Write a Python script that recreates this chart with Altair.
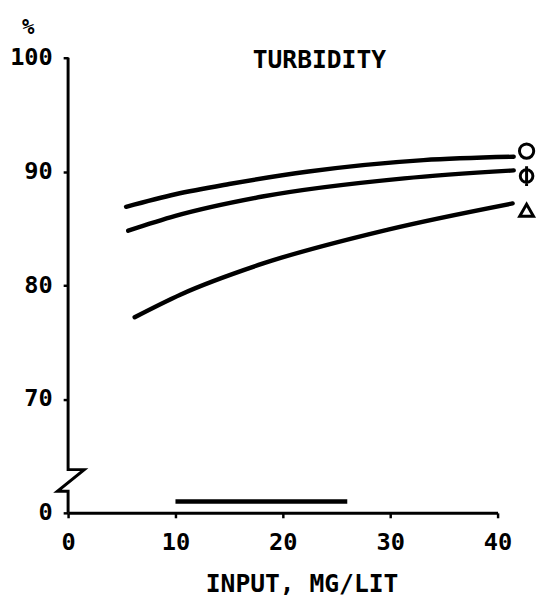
import altair as alt
import pandas as pd

# ---- data ----
series_names = ["circle", "phi", "triangle"]
x_circle = [5.4, 10, 15, 22.4, 33.1, 41.5]
y_circle = [86.9, 88.0, 88.9, 90.0, 91.0, 91.3]
x_phi = [5.6, 10, 18.1, 31.3, 41.5]
y_phi = [84.8, 86.1, 87.8, 89.4, 90.1]
x_tri = [6.2, 10.5, 18.1, 29.8, 41.4]
y_tri = [77.2, 79.2, 81.9, 84.9, 87.2]

marker_x = [42.7, 42.7, 42.7]
marker_y = [91.8, 89.6, 86.6]

# horizontal range bar near the bottom (x from 10 to 26, ~1 %)
bar_x = [10, 26]
bar_value = 1

y_ticks = [60, 70, 80, 90, 100]   # 60 is shown as "0" after the axis break
x_ticks = [0, 10, 20, 30, 40]
BREAK_BASE = 60                   # axis value drawn for 0 %

# broken y-axis outline (x, y) in data units
axis_x = [0, 0, 1.5, -1.0, 0, 0]
axis_y = [100, 63.8, 63.8, 61.9, 61.9, 60]

FONT = "DejaVu Sans Mono"

lines_df = pd.concat([
    pd.DataFrame({"series": "circle", "x": x_circle, "y": y_circle}),
    pd.DataFrame({"series": "phi", "x": x_phi, "y": y_phi}),
    pd.DataFrame({"series": "triangle", "x": x_tri, "y": y_tri}),
])
markers_df = pd.DataFrame({"series": series_names, "x": marker_x, "y": marker_y})
bar_df = pd.DataFrame({"x": [bar_x[0]], "x2": [bar_x[1]], "y": [BREAK_BASE + bar_value]})
axis_df = pd.DataFrame({"x": axis_x, "y": axis_y, "o": list(range(len(axis_x)))})
title_df = pd.DataFrame({"x": [23.4], "y": [99.8], "t": ["TURBIDITY"]})

xscale = alt.Scale(domain=[0, 40], nice=False)
yscale = alt.Scale(domain=[60, 100], nice=False, zero=False)

x_enc = alt.X(
    "x:Q", scale=xscale,
    axis=alt.Axis(
        values=x_ticks, title="INPUT, MG/LIT", grid=False,
        domainWidth=3, domainColor="black", tickColor="black", tickWidth=2.5, tickSize=5,
        labelFont=FONT, labelFontWeight="bold", labelFontSize=24, labelColor="black",
        labelPadding=13, labelFlush=False,
        titleFont=FONT, titleFontWeight="bold", titleFontSize=25, titleColor="black",
        titleX=237, titleY=80, titleBaseline="alphabetic", titleAlign="center",
    ),
)
y_enc = alt.Y(
    "y:Q", scale=yscale,
    axis=alt.Axis(
        values=y_ticks, title="%", grid=False, domain=False,
        labelExpr="datum.value == 60 ? '0' : datum.label",
        tickColor="black", tickWidth=2.5, tickSize=5,
        labelFont=FONT, labelFontWeight="bold", labelFontSize=24, labelColor="black",
        labelPadding=11, labelFlush=False,
        titleFont=FONT, titleFontWeight="bold", titleFontSize=21, titleColor="black",
        titleAngle=0, titleX=-41, titleY=-25, titleBaseline="alphabetic", titleAlign="center",
    ),
)

lines = alt.Chart(lines_df).mark_line(
    interpolate="monotone", color="black", strokeWidth=4.5, strokeCap="round"
).encode(x=x_enc, y=y_enc, detail="series:N")

phi_path = "M -0.9,0 A 0.9,0.9 0 1,1 0.9,0 A 0.9,0.9 0 1,1 -0.9,0 M 0,-1.4 L 0,1.4"
markers = alt.Chart(markers_df).mark_point(
    filled=False, color="black", strokeWidth=3, opacity=1
).encode(
    x="x:Q", y="y:Q",
    shape=alt.Shape("series:N", scale=alt.Scale(domain=series_names,
                                               range=["circle", phi_path, "triangle-up"]), legend=None),
    size=alt.Size("series:N", scale=alt.Scale(domain=series_names, range=[210, 196, 360]), legend=None),
)

bar = alt.Chart(bar_df).mark_rule(color="black", strokeWidth=4.5).encode(
    x="x:Q", x2="x2:Q", y="y:Q"
)

axis_line = alt.Chart(axis_df).mark_line(color="black", strokeWidth=3).encode(
    x="x:Q", y="y:Q", order="o:Q"
)

title = alt.Chart(title_df).mark_text(
    font=FONT, fontWeight="bold", fontSize=25, color="black", baseline="middle", align="center"
).encode(x="x:Q", y="y:Q", text="t:N")

chart = alt.layer(axis_line, lines, bar, markers, title).properties(
    width=436, height=462,
    autosize=alt.AutoSizeParams(type="none"),
    padding={"left": 61, "top": 46, "right": 40, "bottom": 86},
    view=alt.ViewBackground(stroke="transparent", strokeWidth=0),
).configure_view(stroke="transparent", strokeWidth=0).configure(background="white")

chart.save("out.html", embed_options={"renderer": "svg", "actions": False})
